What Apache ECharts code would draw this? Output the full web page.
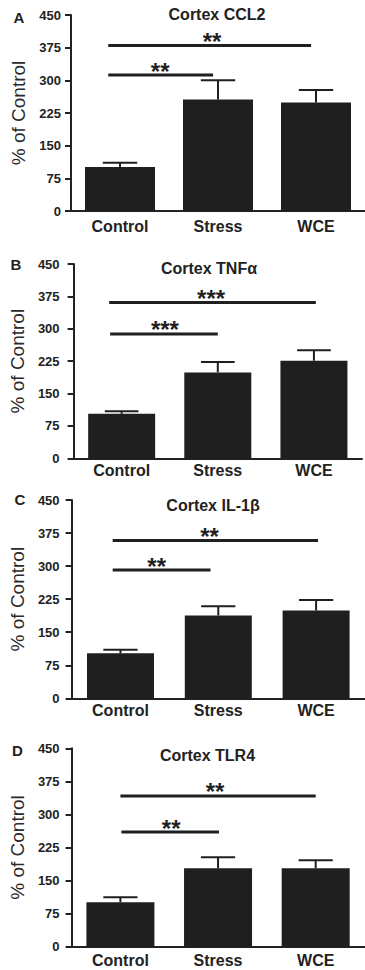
<!DOCTYPE html>
<html>
<head>
<meta charset="utf-8">
<title>Cortex cytokines</title>
<script src="https://cdn.jsdelivr.net/npm/echarts@6/dist/echarts.min.js"></script>
<style>
  html, body { margin: 0; padding: 0; background: #ffffff; }
  #chart { width: 365px; height: 970px; }
</style>
</head>
<body>
<div id="chart"></div>
<script>
// ---- data -------------------------------------------------------------
const categories = ['Control', 'Stress', 'WCE'];
const panelLetters = ['A', 'B', 'C', 'D'];
const panelTitles = ['Cortex CCL2', 'Cortex TNFα', 'Cortex IL-1β', 'Cortex TLR4'];
const yAxisName = '% of Control';
const yMin = 0;
const yMax = 450;
const yStep = 75;

// group means and SEM (% of control)
const ccl2Mean = [101, 256, 249];
const ccl2Sem = [10, 44, 29];
const tnfMean = [103, 199, 226];
const tnfSem = [6, 24, 24];
const il1bMean = [102, 188, 199];
const il1bSem = [8, 21, 24];
const tlr4Mean = [101, 178, 178];
const tlr4Sem = [11, 25, 18];

// significance brackets: [start, end, level, star centre] in category units / % of control
const ccl2Brackets = [[-0.12, 0.95, 312, 0.41], [-0.12, 1.95, 380, 0.94]];
const tnfBrackets = [[-0.12, 1.00, 288, 0.45], [-0.13, 2.02, 361, 0.93]];
const il1bBrackets = [[-0.08, 0.92, 291, 0.37], [-0.08, 2.02, 358, 0.91]];
const tlr4Brackets = [[0.01, 1.01, 260, 0.52], [0.00, 2.00, 342, 0.97]];
const ccl2Stars = ['**', '**'];
const tnfStars = ['***', '***'];
const il1bStars = ['**', '**'];
const tlr4Stars = ['**', '**'];

// ---- layout -----------------------------------------------------------
const FONT = '"Liberation Sans", Arial, Helvetica, sans-serif';
const INK = '#1f1f1f';

const panels = [
  { mean: ccl2Mean, sem: ccl2Sem, brackets: ccl2Brackets, stars: ccl2Stars,
    grid: { left: 71, top: 15, width: 301.5, height: 196 }, barWidth: 70,
    yLabelMargin: 10, xLabelMargin: 7, title: [217, 6], letter: [19, 10] },
  { mean: tnfMean, sem: tnfSem, brackets: tnfBrackets, stars: tnfStars,
    grid: { left: 71, top: 264, width: 291, height: 194.3 }, barWidth: 67,
    yLabelMargin: 14, xLabelMargin: 4, title: [209, 260], letter: [16, 257] },
  { mean: il1bMean, sem: il1bSem, brackets: il1bBrackets, stars: il1bStars,
    grid: { left: 70, top: 500, width: 298.5, height: 198.3 }, barWidth: 67,
    yLabelMargin: 12, xLabelMargin: 4.5, title: [213, 497], letter: [20, 492] },
  { mean: tlr4Mean, sem: tlr4Sem, brackets: tlr4Brackets, stars: tlr4Stars,
    grid: { left: 67.5, top: 748.3, width: 297, height: 198.4 }, barWidth: 68,
    yLabelMargin: 12, xLabelMargin: 6, title: [207.5, 747], letter: [17.5, 743] }
];

const grids = [];
const xAxes = [];
const yAxes = [];
const series = [];
const titles = [];

panels.forEach((p, i) => {
  grids.push(Object.assign({ containLabel: false }, p.grid));

  titles.push({
    text: panelTitles[i], left: p.title[0], top: p.title[1], textAlign: 'center', padding: 0,
    textStyle: { fontFamily: FONT, fontSize: 16, fontWeight: 'bold', color: '#222' }
  });
  titles.push({
    text: panelLetters[i], left: p.letter[0], top: p.letter[1], textAlign: 'center', padding: 0,
    textStyle: { fontFamily: FONT, fontSize: 15, fontWeight: 'bold', color: '#222' }
  });

  // category axis (bars) and a hidden continuous twin for the brackets
  const catIdx = xAxes.length;
  xAxes.push({
    type: 'category', gridIndex: i, data: categories, boundaryGap: true,
    axisLine: { show: true, onZero: false, lineStyle: { color: '#222', width: 2 } },
    axisTick: { show: false },
    axisLabel: { margin: p.xLabelMargin, fontFamily: FONT, fontSize: 16, fontWeight: 'bold', color: '#222' },
    splitLine: { show: false }
  });
  const valIdx = xAxes.length;
  xAxes.push({ type: 'value', gridIndex: i, min: -0.5, max: 2.5, show: false });

  yAxes.push({
    type: 'value', gridIndex: i, min: yMin, max: yMax, interval: yStep,
    name: yAxisName, nameLocation: 'middle', nameGap: 42,
    nameTextStyle: { fontFamily: FONT, fontSize: 19, color: '#2a2a2a' },
    axisLine: { show: true, onZero: false, lineStyle: { color: '#222', width: 2 } },
    axisTick: { show: true, inside: false, length: 6, lineStyle: { color: '#222', width: 2 } },
    axisLabel: { margin: p.yLabelMargin, fontFamily: FONT, fontSize: 13, fontWeight: 'bold', color: '#222' },
    splitLine: { show: false }
  });

  series.push({
    type: 'bar', xAxisIndex: catIdx, yAxisIndex: i, data: p.mean,
    barWidth: p.barWidth, itemStyle: { color: INK }, silent: true, z: 2
  });

  // upward SEM whiskers with caps
  series.push({
    type: 'custom', xAxisIndex: catIdx, yAxisIndex: i, z: 3, silent: true,
    data: p.mean.map((m, k) => [k, m, p.sem[k]]),
    renderItem: (params, api) => {
      const base = api.coord([api.value(0), api.value(1)]);
      const top = api.coord([api.value(0), api.value(1) + api.value(2)]);
      const half = api.size([1, 0])[0] * 0.175;
      const st = { stroke: INK, lineWidth: 2 };
      return {
        type: 'group', children: [
          { type: 'line', shape: { x1: base[0], y1: base[1], x2: top[0], y2: top[1] }, style: st },
          { type: 'line', shape: { x1: top[0] - half, y1: top[1], x2: top[0] + half, y2: top[1] }, style: st }
        ]
      };
    }
  });

  // significance brackets with asterisks
  series.push({
    type: 'custom', xAxisIndex: valIdx, yAxisIndex: i, z: 4, silent: true,
    data: p.brackets,
    renderItem: (params, api) => {
      const a = api.coord([api.value(0), api.value(2)]);
      const b = api.coord([api.value(1), api.value(2)]);
      const s = api.coord([api.value(3), api.value(2)]);
      return {
        type: 'group', children: [
          { type: 'line', shape: { x1: a[0], y1: a[1], x2: b[0], y2: b[1] },
            style: { stroke: INK, lineWidth: 3 } },
          { type: 'text', x: s[0], y: s[1] - 4,
            style: { text: p.stars[params.dataIndex], fill: INK, fontFamily: FONT,
                     fontSize: 24, fontWeight: 'bold', align: 'center', verticalAlign: 'middle' } }
        ]
      };
    }
  });
});

const chart = echarts.init(document.getElementById('chart'), null, { renderer: 'svg' });
chart.setOption({
  animation: false,
  backgroundColor: '#ffffff',
  title: titles,
  grid: grids,
  xAxis: xAxes,
  yAxis: yAxes,
  series: series
});
</script>
</body>
</html>
